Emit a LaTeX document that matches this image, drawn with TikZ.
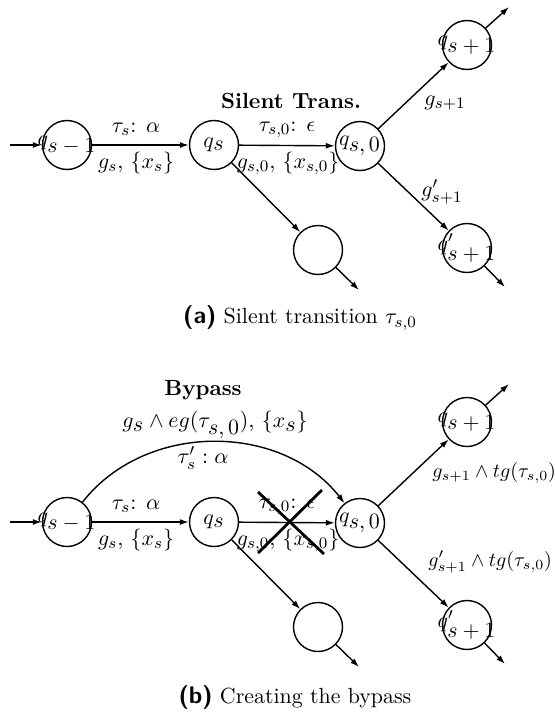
\documentclass[tikz,border=0pt]{standalone}
\usetikzlibrary{arrows.meta}
\tikzset{
	state/.style={circle, draw, line width=0.7pt, minimum size=24.5pt, inner sep=0pt},
	arr/.style={line width=0.7pt, -{Latex[length=4.5pt,width=3pt]}},
	crossline/.style={line width=1.4pt},
	sidelabel/.style={anchor=west, inner sep=0pt, font=\fontsize{10}{12}\selectfont},
}
\newcommand{\qlab}[1]{\makebox[0pt]{$#1$}}
\begin{document}
\begin{tikzpicture}[x=0.5pt, y=0.5pt, font=\fontsize{10.95}{13}\selectfont]
		\useasboundingbox (0,0) rectangle (554,-712);
		% the part both panels share
		\foreach \p/\dy in {a/0, b/377}{
			\node[state] (qm\p) at (67,-145-\dy) {\qlab{q_{\textstyle s-1}}};
			\node[state] (qs\p) at (214,-145-\dy) {\qlab{q_{\textstyle s}}};
			\node[state] (qz\p) at (360,-146-\dy) {\qlab{q_{\textstyle s,0}}};
			\node[state] (qn\p) at (467,-45-\dy) {\qlab{q_{\textstyle s+1}}};
			\node[state] (qp\p) at (467,-248-\dy) {\qlab{q'_{\textstyle s+1}}};
			\node[state] (qe\p) at (318,-250-\dy) {};
			\coordinate (in\p) at (10,-145-\dy);
			\coordinate (outn\p) at (509,-7-\dy);
			\coordinate (outp\p) at (505,-287-\dy);
			\coordinate (oute\p) at (359,-290-\dy);
			\draw[arr] (in\p) -- (qm\p);
			\draw[arr] (qm\p) -- (qs\p);
			\draw[arr] (qs\p) -- (qz\p);
			\draw[arr] (qs\p) -- (qe\p);
			\draw[arr] (qz\p) -- (qn\p);
			\draw[arr] (qz\p) -- (qp\p);
			\draw[arr] (qn\p) -- (outn\p);
			\draw[arr] (qp\p) -- (outp\p);
			\draw[arr] (qe\p) -- (oute\p);
			\node (tau\p) at (136,-129-\dy) {$\tau_s$: $\alpha$};
			\node (gx\p) at (136,-163-\dy) {$g_s$, $\{x_s\}$};
			\node (tauz\p) at (287,-130-\dy) {$\tau_{s,0}$: $\epsilon$};
			\node (gxz\p) at (288,-163-\dy) {$g_{s,0}$, $\{x_{s,0}\}$};
		}
		% (a)
		\node (silent) at (291,-101) {\textbf{Silent Trans.}};
		\node (gna) at (445,-103) {$g_{s+1}$};
		\node (gpa) at (442,-192) {$g'_{s+1}$};
		\node (capa) at (300,-318) {{\sffamily\bfseries\large (a)} Silent transition $\tau_{s,0}$};
		% (b)
		\node (bypass) at (203,-390) {\textbf{Bypass}};
		\draw[arr] (qmb) to[out=52, in=128] (qzb);
		\node (geg) at (215,-425) {$g_{\textstyle s}\wedge eg(\tau_{\textstyle s,0})$, $\{x_{\textstyle s}\}$};
		\node (taup) at (203,-458) {$\tau'_s : \alpha$};
		\node[sidelabel] (gnb) at (432,-473) {$g_{s+1}\wedge tg(\tau_{s,0})$};
		\node[sidelabel] (gpb) at (428,-562) {$g'_{s+1}\wedge tg(\tau_{s,0})$};
		\coordinate (cross) at (291,-522);
		\draw[crossline] (cross) ++(-33,30) -- ++(66,-62);
		\draw[crossline] (cross) ++(31,32) -- ++(-64,-63);
		\node (capb) at (295,-697) {{\sffamily\bfseries\large (b)} Creating the bypass};
	\end{tikzpicture}
\end{document}
